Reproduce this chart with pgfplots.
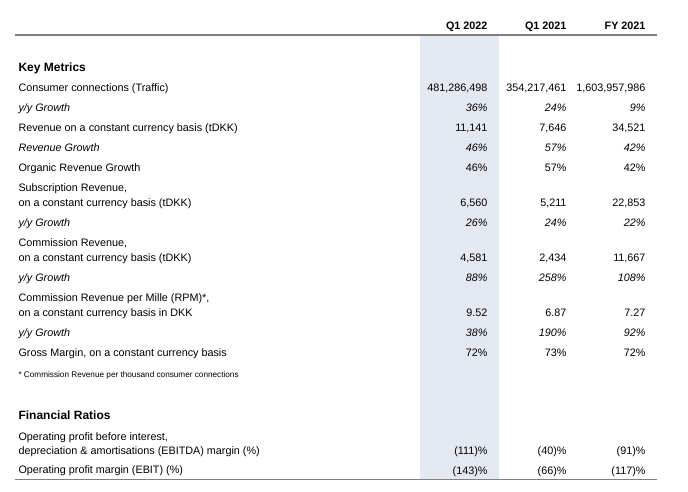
\documentclass[border=0pt]{standalone}
\usepackage{pgfplots}
\pgfplotsset{compat=1.18}
\usepackage{fontspec}
\setmainfont{Liberation Sans}
\definecolor{shade}{HTML}{E4E8F1}
\definecolor{rule}{HTML}{7F7F7F}
\definecolor{ink}{HTML}{1A1A1A}
\newcommand{\bodyfont}{\fontsize{10.8bp}{12bp}\selectfont}
\begin{document}
\begin{tikzpicture}
\begin{axis}[
  width=688bp, height=492bp, scale only axis,
  xmin=0, xmax=688, ymin=0, ymax=492, y dir=reverse,
  axis lines=none, clip=false,
  every node/.append style={text=ink, inner sep=0pt, outer sep=0pt},
]
% page frame (invisible) so the picture keeps the reference size
\path (axis cs:0,0) rectangle (axis cs:688,492);
% shaded current-quarter column
\addplot[fill=shade, draw=none] coordinates {(420,35) (499,35) (499,479) (420,479)} -- cycle;
% rules
\addplot[draw=rule, line width=1.6bp] coordinates {(15,35) (657,35)};
\addplot[draw=rule, line width=1bp] coordinates {(15,479) (657,479)};

% header
\node[anchor=base east, font=\fontsize{10.8bp}{12bp}\selectfont\bfseries] at (axis cs:491,29.5) {Q1 2022};
\node[anchor=base east, font=\fontsize{10.8bp}{12bp}\selectfont\bfseries] at (axis cs:570,29.5) {Q1 2021};
\node[anchor=base east, font=\fontsize{10.8bp}{12bp}\selectfont\bfseries] at (axis cs:649,29.5) {FY 2021};

% section headings
\node[anchor=base west, font=\fontsize{12bp}{14bp}\selectfont\bfseries] at (axis cs:15,71.5) {Key Metrics};
\node[anchor=base west, font=\fontsize{12bp}{14bp}\selectfont\bfseries] at (axis cs:15,419) {Financial Ratios};

% labels
\begin{scope}[every node/.append style={anchor=base west, font=\bodyfont}]
\node at (axis cs:15,91.5) {Consumer connections (Traffic)};
\node[font=\bodyfont\itshape] at (axis cs:15,111) {y/y Growth};
\node at (axis cs:15,131.5) {Revenue on a constant currency basis (tDKK)};
\node[font=\bodyfont\itshape] at (axis cs:15,151.5) {Revenue Growth};
\node at (axis cs:15,171.5) {Organic Revenue Growth};
\node at (axis cs:15,191.5) {Subscription Revenue,};
\node at (axis cs:15,206.5) {on a constant currency basis (tDKK)};
\node[font=\bodyfont\itshape] at (axis cs:15,226.5) {y/y Growth};
\node at (axis cs:15,246.5) {Commission Revenue,};
\node at (axis cs:15,261.5) {on a constant currency basis (tDKK)};
\node[font=\bodyfont\itshape] at (axis cs:15,281.5) {y/y Growth};
\node at (axis cs:15,301.5) {Commission Revenue per Mille (RPM)*,};
\node at (axis cs:15,316.5) {on a constant currency basis in DKK};
\node[font=\bodyfont\itshape] at (axis cs:15,336.5) {y/y Growth};
\node at (axis cs:15,356.5) {Gross Margin, on a constant currency basis};
\node[font=\fontsize{8.2bp}{9bp}\selectfont] at (axis cs:15,377) {* Commission Revenue per thousand consumer connections};
\node at (axis cs:15,440) {Operating profit before interest,};
\node at (axis cs:15,454.5) {depreciation \& amortisations (EBITDA) margin (\%)};
\node at (axis cs:15,473.5) {Operating profit margin (EBIT) (\%)};
\end{scope}

% values
\begin{scope}[every node/.append style={anchor=base east, font=\bodyfont}]
% Q1 2022
\node at (axis cs:491,91.5) {481,286,498};
\node[font=\bodyfont\itshape] at (axis cs:491,111) {36\%};
\node at (axis cs:491,131.5) {11,141};
\node[font=\bodyfont\itshape] at (axis cs:491,151.5) {46\%};
\node at (axis cs:491,171.5) {46\%};
\node at (axis cs:491,206.5) {6,560};
\node[font=\bodyfont\itshape] at (axis cs:491,226.5) {26\%};
\node at (axis cs:491,261.5) {4,581};
\node[font=\bodyfont\itshape] at (axis cs:491,281.5) {88\%};
\node at (axis cs:491,316.5) {9.52};
\node[font=\bodyfont\itshape] at (axis cs:491,336.5) {38\%};
\node at (axis cs:491,356.5) {72\%};
\node at (axis cs:491,454.5) {(111)\%};
\node at (axis cs:491,474.5) {(143)\%};
% Q1 2021
\node at (axis cs:570,91.5) {354,217,461};
\node[font=\bodyfont\itshape] at (axis cs:570,111) {24\%};
\node at (axis cs:570,131.5) {7,646};
\node[font=\bodyfont\itshape] at (axis cs:570,151.5) {57\%};
\node at (axis cs:570,171.5) {57\%};
\node at (axis cs:570,206.5) {5,211};
\node[font=\bodyfont\itshape] at (axis cs:570,226.5) {24\%};
\node at (axis cs:570,261.5) {2,434};
\node[font=\bodyfont\itshape] at (axis cs:570,281.5) {258\%};
\node at (axis cs:570,316.5) {6.87};
\node[font=\bodyfont\itshape] at (axis cs:570,336.5) {190\%};
\node at (axis cs:570,356.5) {73\%};
\node at (axis cs:570,454.5) {(40)\%};
\node at (axis cs:570,474.5) {(66)\%};
% FY 2021
\node at (axis cs:649,91.5) {1,603,957,986};
\node[font=\bodyfont\itshape] at (axis cs:649,111) {9\%};
\node at (axis cs:649,131.5) {34,521};
\node[font=\bodyfont\itshape] at (axis cs:649,151.5) {42\%};
\node at (axis cs:649,171.5) {42\%};
\node at (axis cs:649,206.5) {22,853};
\node[font=\bodyfont\itshape] at (axis cs:649,226.5) {22\%};
\node at (axis cs:649,261.5) {11,667};
\node[font=\bodyfont\itshape] at (axis cs:649,281.5) {108\%};
\node at (axis cs:649,316.5) {7.27};
\node[font=\bodyfont\itshape] at (axis cs:649,336.5) {92\%};
\node at (axis cs:649,356.5) {72\%};
\node at (axis cs:649,454.5) {(91)\%};
\node at (axis cs:649,474.5) {(117)\%};
\end{scope}
\end{axis}
\end{tikzpicture}
\end{document}
